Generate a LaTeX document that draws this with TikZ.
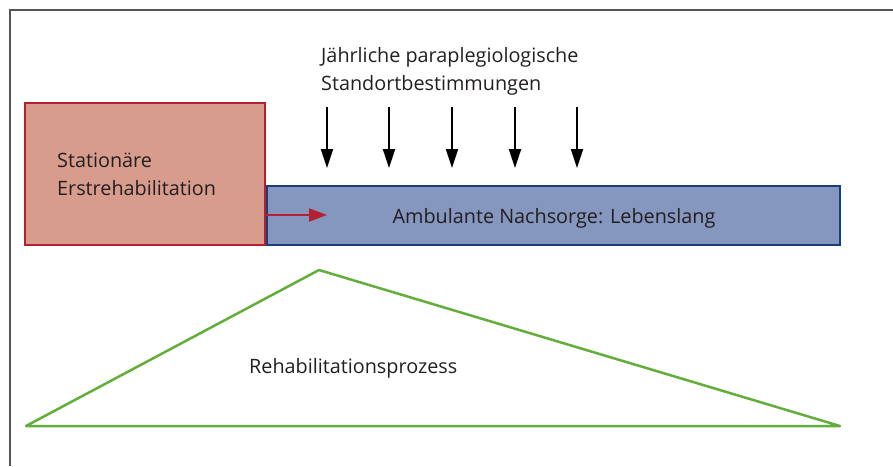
\documentclass[tikz,border=0pt]{standalone}
\usepackage{fontspec}
\setmainfont{Open Sans}
\usetikzlibrary{arrows.meta}
\definecolor{framegray}{HTML}{555555}
\definecolor{redline}{HTML}{B3202F}
\definecolor{redfill}{HTML}{D89C8D}
\definecolor{blueline}{HTML}{1A3E78}
\definecolor{bluefill}{HTML}{8596BF}
\definecolor{greenline}{HTML}{63AE3A}
\definecolor{textgray}{HTML}{231F20}
\begin{document}
\begin{tikzpicture}[x=1pt,y=-1pt,
  lbl/.style={inner sep=0pt,text=textgray,font=\fontsize{19.8}{28}\selectfont,align=left},
  downarrow/.style={draw=black,line width=2pt,-{Triangle[length=19pt,width=12pt]}},
  redarrow/.style={draw=redline,line width=2pt,-{Triangle[length=18pt,width=13pt]}},
  boxred/.style={draw=redline,fill=redfill,line width=2pt},
  boxblue/.style={draw=blueline,fill=bluefill,line width=2pt}]
\useasboundingbox (0,0) rectangle (893,466);
% frame
\draw[framegray,line width=1.6pt] (10,466) -- (10,10) -- (893,10);
% boxes
\draw[boxblue] (267,186) rectangle (840,245);
\draw[boxred] (25,103) rectangle (265,245);
\coordinate (redE) at (265,215);
\coordinate (redT) at (327,215);
\draw[redarrow] (redE) -- (redT);
% texts
\node[lbl,anchor=base west] (title) at (321,90) {Jährliche paraplegiologische\\Standortbestimmungen};
\node[lbl,anchor=base west] (stat) at (57,195) {Stationäre\\Erstrehabilitation};
\node[lbl,anchor=base] (amb) at (554,223) {Ambulante Nachsorge: Lebenslang};
\node[lbl,anchor=base west] (reha) at (249,373) {Rehabilitationsprozess};
% arrows
\foreach \i/\x in {1/327,2/389,3/452,4/515,5/577}{
  \coordinate (a\i) at (\x,107);
  \coordinate (b\i) at (\x,168);
  \draw[downarrow] (a\i) -- (b\i);
}
% triangle
\coordinate (tl) at (26,426);
\coordinate (tt) at (319,270);
\coordinate (tr) at (840,426);
\draw[greenline,line width=2.5pt,line join=round] (tl) -- (tt) -- (tr) -- cycle;
\end{tikzpicture}
\end{document}
